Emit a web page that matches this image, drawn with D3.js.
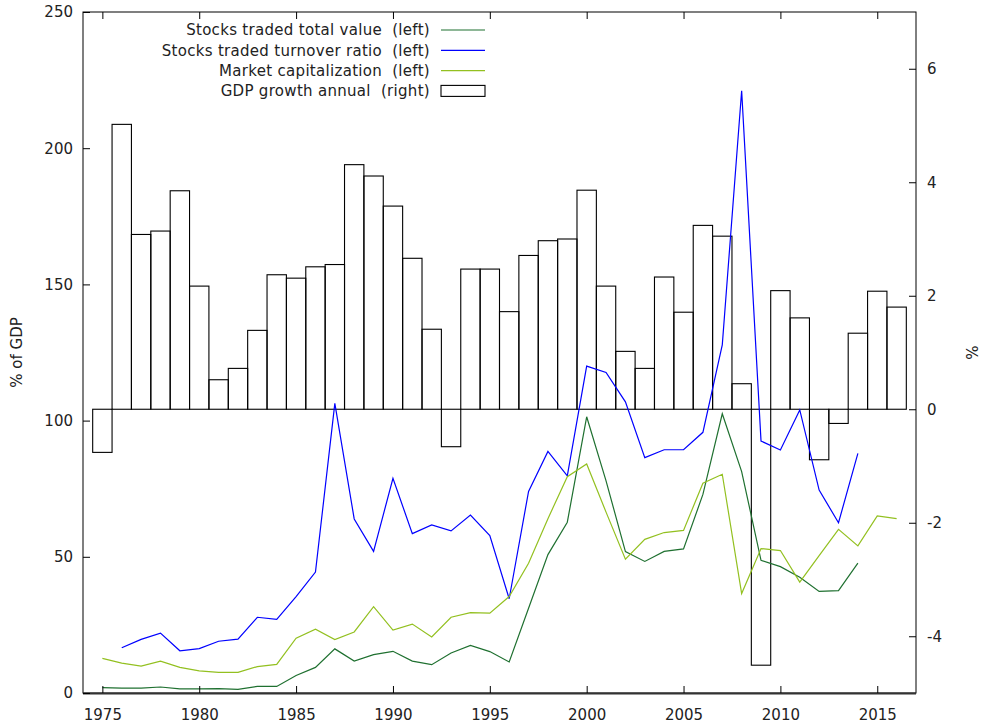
<!DOCTYPE html>
<html>
<head>
<meta charset="utf-8">
<script src="https://cdn.jsdelivr.net/npm/d3@7"></script>
<style>
  body { margin: 0; background: #fff; }
  text { font-family: "DejaVu Sans", sans-serif; fill: #222; white-space: pre; }
</style>
</head>
<body>
<div id="chart"></div>
<script>
// Years 1975-2016
const years = d3.range(1975, 2017);

// GDP growth annual (%), right axis
const gdpGrowth = [-0.76, 5.02, 3.08, 3.14, 3.85, 2.17, 0.52, 0.72, 1.39, 2.37,
    2.31, 2.51, 2.55, 4.31, 4.11, 3.58, 2.66, 1.41, -0.66, 2.47,
    2.47, 1.72, 2.71, 2.97, 3.00, 3.86, 2.17, 1.02, 0.72, 2.33,
    1.71, 3.24, 3.05, 0.45, -4.51, 2.09, 1.61, -0.89, -0.25, 1.34,
    2.08, 1.80];

// Stocks traded total value (% of GDP), left axis
const tradedValue = [1.96, 1.8, 1.8, 2.2, 1.5, 1.5, 1.6, 1.3, 2.4, 2.4,
    6.4, 9.4, 16.2, 11.7, 14.1, 15.3, 11.7, 10.4, 14.7, 17.5,
    15.2, 11.4, 31.1, 50.8, 62.7, 101.4, 77.9, 51.9, 48.3, 52.0,
    52.9, 72.9, 102.5, 81.3, 48.7, 46.4, 42.5, 37.3, 37.6, 47.7,
    null, null];

// Stocks traded turnover ratio (%), left axis
const turnover = [null, 16.6, 19.7, 22.0, 15.5, 16.3, 19.0, 19.8, 27.8, 27.0,
    35.4, 44.4, 106.3, 63.9, 52.0, 78.8, 58.5, 61.7, 59.5, 65.3,
    57.8, 34.6, 74.0, 88.7, 79.7, 120.0, 117.7, 106.9, 86.4, 89.3,
    89.3, 95.7, 127.8, 221.1, 92.5, 89.2, 103.9, 74.5, 62.5, 88.0,
    null, null];

// Market capitalization (% of GDP), left axis
const marketCap = [12.7, 11.0, 9.9, 11.7, 9.4, 8.1, 7.6, 7.6, 9.7, 10.5,
    20.1, 23.4, 19.6, 22.4, 31.7, 23.1, 25.3, 20.6, 27.8, 29.5,
    29.3, 35.4, 47.6, 64.0, 79.4, 84.1, 66.4, 49.1, 56.4, 58.9,
    59.7, 77.0, 80.3, 36.5, 53.0, 52.3, 40.7, 50.4, 60.1, 54.0,
    65.0, 64.0];

const xTicks = [1975, 1980, 1985, 1990, 1995, 2000, 2005, 2010, 2015];
const leftTicks = [0, 50, 100, 150, 200, 250];
const rightTicks = [-4, -2, 0, 2, 4, 6];

const lineSeries = [
    { name: "Stocks traded total value  (left)", values: tradedValue, color: "#1f7030" },
    { name: "Stocks traded turnover ratio  (left)", values: turnover, color: "#0000ff" },
    { name: "Market capitalization  (left)", values: marketCap, color: "#93c020" }
];

const W = 982, H = 724;
const margin = { top: 12, right: 66, bottom: 31, left: 83 };

const svg = d3.select("#chart").append("svg")
    .attr("width", W)
    .attr("height", H);

const x = d3.scaleLinear().domain([1974, 2017]).range([margin.left, W - margin.right]);
const yL = d3.scaleLinear().domain([0, 250]).range([H - margin.bottom, margin.top]);
const yR = d3.scaleLinear().domain([-5, 7]).range([H - margin.bottom, margin.top]);

// GDP bars (empty boxes, one year wide)
svg.append("g")
    .selectAll("rect")
    .data(years.map((yr, i) => ({ yr, v: gdpGrowth[i] })))
    .join("rect")
    .attr("x", d => x(d.yr - 0.5))
    .attr("width", d => x(d.yr + 0.5) - x(d.yr - 0.5))
    .attr("y", d => yR(Math.max(0, d.v)))
    .attr("height", d => Math.abs(yR(d.v) - yR(0)))
    .attr("fill", "none")
    .attr("stroke", "#000")
    .attr("stroke-width", 1.1);

// Lines
const line = d3.line()
    .defined(d => d.v != null)
    .x(d => x(d.yr))
    .y(d => yL(d.v));

lineSeries.forEach(s => {
    svg.append("path")
        .datum(years.map((yr, i) => ({ yr, v: s.values[i] })))
        .attr("fill", "none")
        .attr("stroke", s.color)
        .attr("stroke-width", 1.2)
        .attr("d", line);
});

// Border
svg.append("rect")
    .attr("x", margin.left)
    .attr("y", margin.top)
    .attr("width", W - margin.left - margin.right)
    .attr("height", H - margin.top - margin.bottom)
    .attr("fill", "none")
    .attr("stroke", "#000")
    .attr("stroke-width", 1);
svg.append("line")
    .attr("x1", margin.left).attr("x2", W - margin.right)
    .attr("y1", H - margin.bottom + 0.5).attr("y2", H - margin.bottom + 0.5)
    .attr("stroke", "#333")
    .attr("stroke-width", 2);

// Axes (inward ticks)
function styleAxis(g) {
    g.select(".domain").remove();
    g.selectAll("text").style("font-size", "15px").style("font-family", "DejaVu Sans, sans-serif").attr("fill", "#222");
    g.selectAll("line").attr("stroke", "#000");
}

svg.append("g")
    .attr("transform", `translate(0,${H - margin.bottom})`)
    .call(d3.axisBottom(x).tickValues(xTicks).tickFormat(d3.format("d")).tickSize(-7).tickPadding(16))
    .call(styleAxis);

svg.append("g")
    .attr("transform", `translate(0,${margin.top})`)
    .call(d3.axisTop(x).tickValues(xTicks).tickFormat("").tickSize(-7))
    .call(styleAxis);

svg.append("g")
    .attr("transform", `translate(${margin.left},0)`)
    .call(d3.axisLeft(yL).tickValues(leftTicks).tickSize(-7).tickPadding(10))
    .call(styleAxis);

svg.append("g")
    .attr("transform", `translate(${W - margin.right},0)`)
    .call(d3.axisRight(yR).tickValues(rightTicks).tickFormat(d => String(d)).tickSize(-7).tickPadding(11))
    .call(styleAxis);

// Axis titles
svg.append("text")
    .attr("text-anchor", "middle")
    .attr("transform", `translate(22,${(margin.top + H - margin.bottom) / 2}) rotate(-90)`)
    .style("font-size", "15px")
    .text("% of GDP");

svg.append("text")
    .attr("text-anchor", "middle")
    .attr("transform", `translate(978,${(margin.top + H - margin.bottom) / 2}) rotate(-90)`)
    .style("font-size", "15px")
    .text("%");

// Legend
const legend = svg.append("g").attr("transform", "translate(430,30)");
const rowH = 20.3;
lineSeries.forEach((s, i) => {
    legend.append("text")
        .attr("x", 0)
        .attr("y", i * rowH)
        .attr("dy", "0.35em")
        .attr("text-anchor", "end")
        .style("font-size", "15px")
        .style("letter-spacing", "0.3px")
        .text(s.name);
    legend.append("line")
        .attr("x1", 11).attr("x2", 55)
        .attr("y1", i * rowH).attr("y2", i * rowH)
        .attr("stroke", s.color)
        .attr("stroke-width", 1.2);
});
legend.append("text")
    .attr("x", 0)
    .attr("y", 3 * rowH)
    .attr("dy", "0.35em")
    .attr("text-anchor", "end")
    .style("font-size", "15px")
    .style("letter-spacing", "0.3px")
    .text("GDP growth annual  (right)");
legend.append("rect")
    .attr("x", 11).attr("y", 3 * rowH - 5.5)
    .attr("width", 44).attr("height", 11)
    .attr("fill", "none")
    .attr("stroke", "#000")
    .attr("stroke-width", 1.1);
</script>
</body>
</html>
